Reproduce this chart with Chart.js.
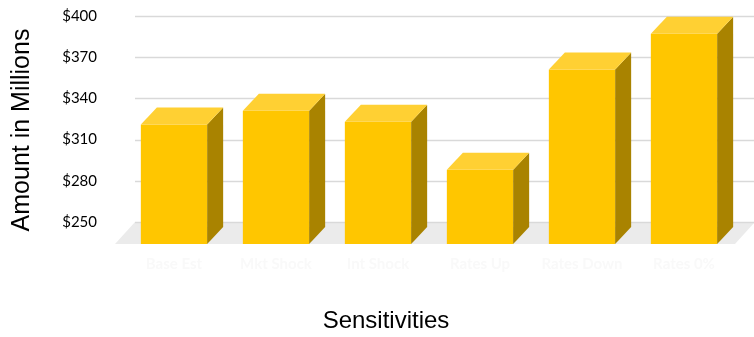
<!DOCTYPE html>
<html>
<head>
<meta charset="utf-8">
<script src="https://cdn.jsdelivr.net/npm/chart.js@4"></script>
<style>
  html, body { margin: 0; padding: 0; background: #ffffff; }
  #wrap { width: 754px; height: 337px; }
</style>
</head>
<body>
<div id="wrap"><canvas id="sensChart" width="754" height="337"></canvas></div>
<script>
// Chart data
var categories = ["Base Est", "Mkt Shock", "Int Shock", "Rates Up", "Rates Down", "Rates 0%"];
var amounts = [337, 347, 339, 304, 377, 403];
var yTicks = [250, 280, 310, 340, 370, 400];
var xTitle = "Sensitivities";

// 3D look: depth offsets for bars and floor
var barDepth = { dx: 16, dy: 17 };
var floorDepth = { dx: 20, dy: 22 };

// Floor + back wall gridlines, drawn before the bars
var backWall = {
  id: "backWall",
  beforeDatasetsDraw: function (chart) {
    var ctx = chart.ctx;
    var area = chart.chartArea;
    var yb = chart.scales.yb;
    var base = chart.scales.y.getPixelForValue(250);
    ctx.save();
    ctx.fillStyle = "#ebebeb";
    ctx.beginPath();
    ctx.moveTo(area.left - 8, base);
    ctx.lineTo(area.right, base);
    ctx.lineTo(area.right + floorDepth.dx, base - floorDepth.dy);
    ctx.lineTo(area.left - 8 + floorDepth.dx, base - floorDepth.dy);
    ctx.closePath();
    ctx.fill();

    ctx.strokeStyle = "#d9d9d9";
    ctx.lineWidth = 1.5;
    yTicks.forEach(function (v) {
      var py = Math.round(yb.getPixelForValue(v)) + 0.5;
      ctx.beginPath();
      ctx.moveTo(area.left - 8 + floorDepth.dx, py);
      ctx.lineTo(area.right + floorDepth.dx, py);
      ctx.stroke();
    });
    ctx.restore();
  }
};

// Top and side faces of each column, plus the x axis title
var columnFaces = {
  id: "columnFaces",
  afterDatasetsDraw: function (chart) {
    var ctx = chart.ctx;
    var meta = chart.getDatasetMeta(0);
    var b = chart.scales.y.getPixelForValue(250);
    ctx.save();
    meta.data.forEach(function (bar) {
      var l = bar.x - bar.width / 2;
      var r = bar.x + bar.width / 2;
      var t = bar.y;
      // side
      ctx.fillStyle = "#a98300";
      ctx.beginPath();
      ctx.moveTo(r, t);
      ctx.lineTo(r + barDepth.dx, t - barDepth.dy);
      ctx.lineTo(r + barDepth.dx, b - barDepth.dy);
      ctx.lineTo(r, b);
      ctx.closePath();
      ctx.fill();
      // top
      ctx.fillStyle = "#ffd033";
      ctx.beginPath();
      ctx.moveTo(l, t);
      ctx.lineTo(r, t);
      ctx.lineTo(r + barDepth.dx, t - barDepth.dy);
      ctx.lineTo(l + barDepth.dx, t - barDepth.dy);
      ctx.closePath();
      ctx.fill();
    });

    ctx.fillStyle = "#000000";
    ctx.font = "24px 'Liberation Sans'";
    ctx.textAlign = "center";
    ctx.textBaseline = "middle";
    ctx.fillText(xTitle, 386, 321);
    ctx.restore();
  }
};

var ctx = document.getElementById("sensChart").getContext("2d");
new Chart(ctx, {
  type: "bar",
  data: {
    labels: categories,
    datasets: [
      {
        data: amounts,
        backgroundColor: "#ffc600",
        borderWidth: 0,
        categoryPercentage: 1,
        barPercentage: 0.65,
        xAxisID: "x",
        yAxisID: "y"
      }
    ]
  },
  options: {
    responsive: false,
    animation: false,
    layout: { padding: { top: 16, right: 19, left: 0, bottom: 0 } },
    plugins: { legend: { display: false }, tooltip: { enabled: false } },
    scales: {
      x: {
        grid: { display: false, drawTicks: false },
        border: { display: false },
        ticks: {
          color: "#f9f9f9",
          padding: 11,
          font: { family: "Lato", size: 15, weight: "bold" }
        },
        afterFit: function (scale) { scale.height = 93; }
      },
      // front plane scale (bars)
      y: {
        display: false,
        min: 250,
        max: 416
      },
      // back wall scale (ticks and gridlines)
      yb: {
        position: "left",
        min: 234,
        max: 400,
        // invisible tick marks push the labels left without adding top padding
        grid: {
          display: true,
          drawOnChartArea: false,
          drawTicks: true,
          tickLength: 22,
          tickColor: "rgba(0,0,0,0)",
          color: "rgba(0,0,0,0)"
        },
        border: { display: false },
        afterBuildTicks: function (scale) {
          scale.ticks = yTicks.map(function (v) { return { value: v }; });
        },
        ticks: {
          color: "#000000",
          padding: 4,
          font: { family: "Lato", size: 15 },
          callback: function (v) { return "$" + v; }
        },
        title: {
          display: true,
          text: "Amount in Millions",
          color: "#000000",
          padding: { top: 7, bottom: 6 },
          font: { family: "Liberation Sans", size: 25 }
        },
        afterFit: function (scale) { scale.width = 123; }
      }
    }
  },
  plugins: [backWall, columnFaces]
});
</script>
</body>
</html>
